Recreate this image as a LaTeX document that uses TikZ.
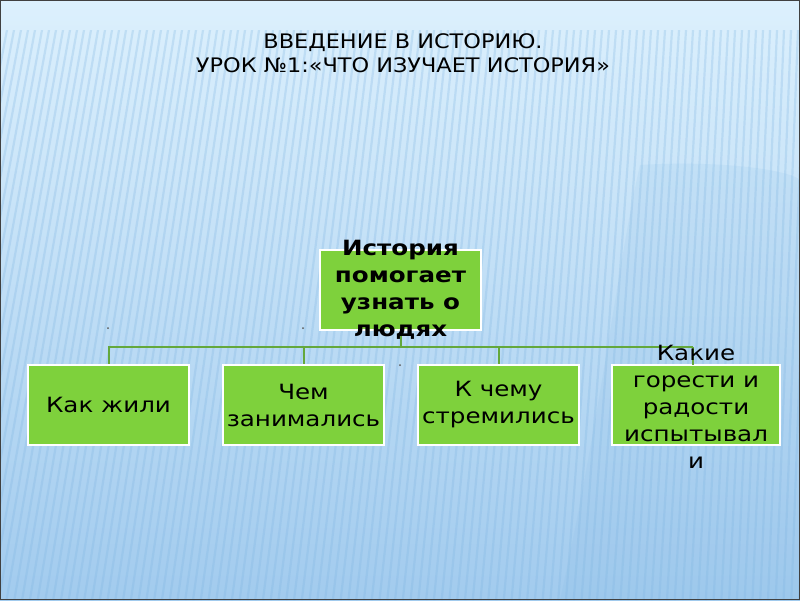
\documentclass[tikz,border=0pt]{standalone}
\usepackage{fontspec}
\setmainfont{DejaVu Sans}
\newfontfamily\wide[FakeStretch=1.17]{DejaVu Sans}
\newfontfamily\titlewide[FakeStretch=1.12]{DejaVu Sans}
\definecolor{bgtop}{HTML}{DCF0FD}
\definecolor{bgmid}{HTML}{C6E3F8}
\definecolor{bgbot}{HTML}{A2CBEE}
\definecolor{stripe}{HTML}{7FB5E2}
\definecolor{boxgreen}{HTML}{7ED13C}
\definecolor{conngreen}{HTML}{64A83C}
\tikzset{
  box/.style={draw=white, line width=2pt, fill=boxgreen, minimum width=161pt, minimum height=80pt, inner sep=0pt},
  boxtext/.style={align=center, font=\wide\fontsize{21}{27}\selectfont, inner sep=0pt},
  toptext/.style={align=center, font=\wide\bfseries\fontsize{21}{27}\selectfont, inner sep=0pt},
  conn/.style={draw=conngreen, line width=2pt},
  speck/.style={circle, fill=gray!70!black, inner sep=0pt, minimum size=2pt}
}
\begin{document}
\begin{tikzpicture}[x=1pt,y=-1pt]
\useasboundingbox (0,0) rectangle (800,600);
\shade[top color=bgtop, middle color=bgmid, bottom color=bgbot] (0,0) rectangle (800,600);
\begin{scope}
\clip (0,30) rectangle (800,600);
\fill[stripe, opacity=0.12] (640,165) .. controls (720,160) and (790,170) .. (800,180) -- (800,600) -- (560,600) .. controls (600,420) and (620,250) .. (640,165) -- cycle;
\foreach \i in {0,7,...,900} {
  \pgfmathsetmacro{\sl}{110-0.11*\i}
  \draw[stripe, opacity=0.28, line width=2.2pt] (\i,30) -- (\i-\sl,600);
}
\end{scope}
\draw[black!75, line width=1pt] (0.5,0.5) rectangle (799.5,599.5);

\node[align=center, font=\titlewide\fontsize{20}{24}\selectfont] (title) at (403,53) {ВВЕДЕНИЕ В ИСТОРИЮ.\\УРОК №1:«ЧТО ИЗУЧАЕТ ИСТОРИЯ»};

\coordinate (busL) at (108,347);
\coordinate (busR) at (693,347);
\coordinate (d4) at (693,365);

\node[box] (top) at (400.5,289.5) {};
\node[box] (b1) at (108.5,405) {};
\node[box] (b2) at (303.5,405) {};
\node[box] (b3) at (498.5,405) {};
\node[box, minimum width=168pt] (b4) at (696,405) {};

\draw[conn] (busL) -- (busR);
\draw[conn] (top.south) -- (top.south |- busL);
\draw[conn] (b1.north |- busL) -- (b1.north);
\draw[conn] (b2.north |- busL) -- (b2.north);
\draw[conn] (b3.north |- busL) -- (b3.north);
\draw[conn] (busR) -- (d4);

\node[toptext] (tt) at (400.5,290) {История\\помогает\\узнать о\\людях};
\node[boxtext] (t1) at (b1.center) {Как жили};
\node[boxtext] (t2) at (b2.center) {Чем\\занимались};
\node[boxtext] (t3) at (b3.center) {К чему\\стремились};
\node[boxtext] (t4) at (696,407) {Какие\\горести и\\радости\\испытывал\\и};

\node[speck] (s1) at (108,328) {};
\node[speck] (s2) at (303,328) {};
\node[speck] (s3) at (400,365) {};
\end{tikzpicture}
\end{document}
